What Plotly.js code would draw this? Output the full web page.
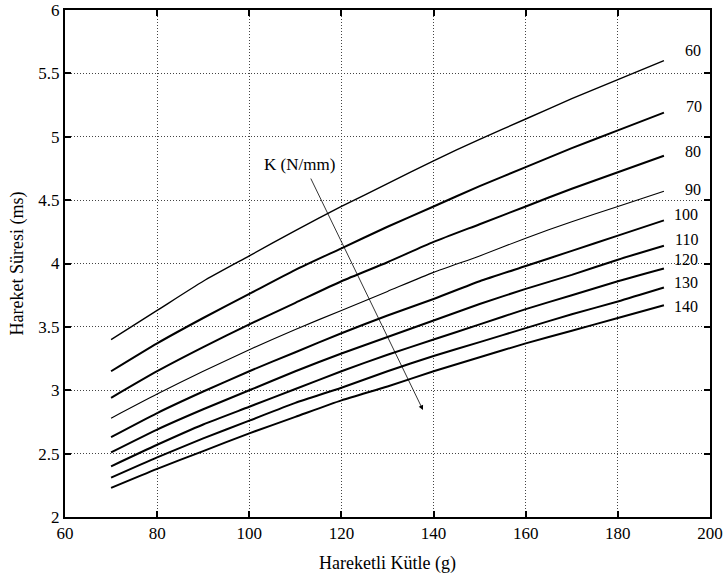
<!DOCTYPE html>
<html>
<head>
<meta charset="utf-8">
<script src="https://cdn.plot.ly/plotly-3.0.1.min.js"></script>
<style>html,body{margin:0;padding:0;background:#fff;}#chart{width:728px;height:581px;}</style>
</head>
<body>
<div id="chart"></div>
<script>
// Moving mass (g)
const mass = [70, 80, 90, 100, 110, 120, 130, 140, 150, 160, 170, 180, 190];
// Stiffness K (N/mm) for each curve
const stiffness = [60, 70, 80, 90, 100, 110, 120, 130, 140];
// Movement time (ms)
const t60  = [3.40, 3.63, 3.86, 4.06, 4.26, 4.45, 4.63, 4.81, 4.98, 5.14, 5.30, 5.45, 5.60];
const t70  = [3.15, 3.37, 3.57, 3.76, 3.95, 4.12, 4.29, 4.45, 4.61, 4.76, 4.91, 5.05, 5.19];
const t80  = [2.94, 3.15, 3.34, 3.52, 3.69, 3.86, 4.01, 4.17, 4.31, 4.45, 4.59, 4.72, 4.85];
const t90  = [2.78, 2.97, 3.15, 3.32, 3.48, 3.63, 3.78, 3.93, 4.06, 4.20, 4.33, 4.45, 4.57];
const t100 = [2.63, 2.82, 2.99, 3.15, 3.30, 3.45, 3.59, 3.72, 3.86, 3.98, 4.10, 4.22, 4.34];
const t110 = [2.51, 2.69, 2.85, 3.00, 3.15, 3.29, 3.42, 3.55, 3.68, 3.80, 3.91, 4.03, 4.14];
const t120 = [2.40, 2.57, 2.73, 2.87, 3.01, 3.15, 3.28, 3.40, 3.52, 3.64, 3.75, 3.86, 3.96];
const t130 = [2.31, 2.47, 2.62, 2.76, 2.90, 3.02, 3.15, 3.27, 3.38, 3.49, 3.60, 3.70, 3.81];
const t140 = [2.23, 2.38, 2.52, 2.66, 2.79, 2.92, 3.03, 3.15, 3.26, 3.37, 3.47, 3.57, 3.67];
const series = [t60, t70, t80, t90, t100, t110, t120, t130, t140];
const labelText = ["60", "70", "80", "90", "100", "110", "120", "130", "140"];

const widths = [1.4, 2, 2, 1.1, 2, 2, 2, 2, 2];
const traces = series.map((s, i) => ({
  x: mass, y: s, type: 'scatter', mode: 'lines',
  line: {color: '#000', width: widths[i], shape: 'spline', smoothing: 0.6},
  name: 'K=' + stiffness[i], hoverinfo: 'skip'
}));

const FAM = 'Liberation Serif, DejaVu Serif, serif';
const f = (s) => ({family: FAM, size: s, color: '#000'});

const labelPos = [
  [196.3, 5.68], [196.6, 5.235], [196.3, 4.88], [196.3, 4.58],
  [194.8, 4.383], [194.8, 4.19], [194.8, 4.03], [194.8, 3.854], [194.8, 3.657]
];
const annotations = labelText.map((t, i) => ({
  x: labelPos[i][0], y: labelPos[i][1], xref: 'x', yref: 'y',
  text: t, showarrow: false, font: f(16),
  xanchor: 'center', yanchor: 'middle'
}));
annotations.push({
  x: 111.0, y: 4.78, xref: 'x', yref: 'y', text: 'K (N/mm)', showarrow: false,
  font: f(17), xanchor: 'center', yanchor: 'middle'
});
annotations.push({
  x: 137.7, y: 2.844, ax: 113.2, ay: 4.682, xref: 'x', yref: 'y', axref: 'x', ayref: 'y',
  text: '', showarrow: true, arrowhead: 2, arrowsize: 1.2, arrowwidth: 0.8, arrowcolor: '#000'
});

const axisCommon = {
  showline: true, linecolor: '#000', linewidth: 2, mirror: 'allticks',
  ticks: 'inside', ticklen: 6, tickwidth: 2, tickcolor: '#000',
  showgrid: true, gridcolor: '#444', griddash: '1px,2px', gridwidth: 1,
  zeroline: false, tickfont: f(17)
};

const layout = {
  width: 728, height: 581,
  margin: {l: 65, r: 18, t: 10, b: 64},
  paper_bgcolor: '#fff', plot_bgcolor: '#fff',
  showlegend: false,
  font: {family: FAM},
  xaxis: Object.assign({}, axisCommon, {
    range: [60, 200], dtick: 20, tick0: 60,
    title: {text: 'Hareketli Kütle (g)', font: f(18), standoff: 14}
  }),
  yaxis: Object.assign({}, axisCommon, {
    range: [2, 6], dtick: 0.5, tick0: 2,
    title: {text: 'Hareket Süresi (ms)', font: f(18), standoff: 10}
  }),
  annotations: annotations
};

Plotly.newPlot('chart', traces, layout, {staticPlot: true, displayModeBar: false});
</script>
</body>
</html>
